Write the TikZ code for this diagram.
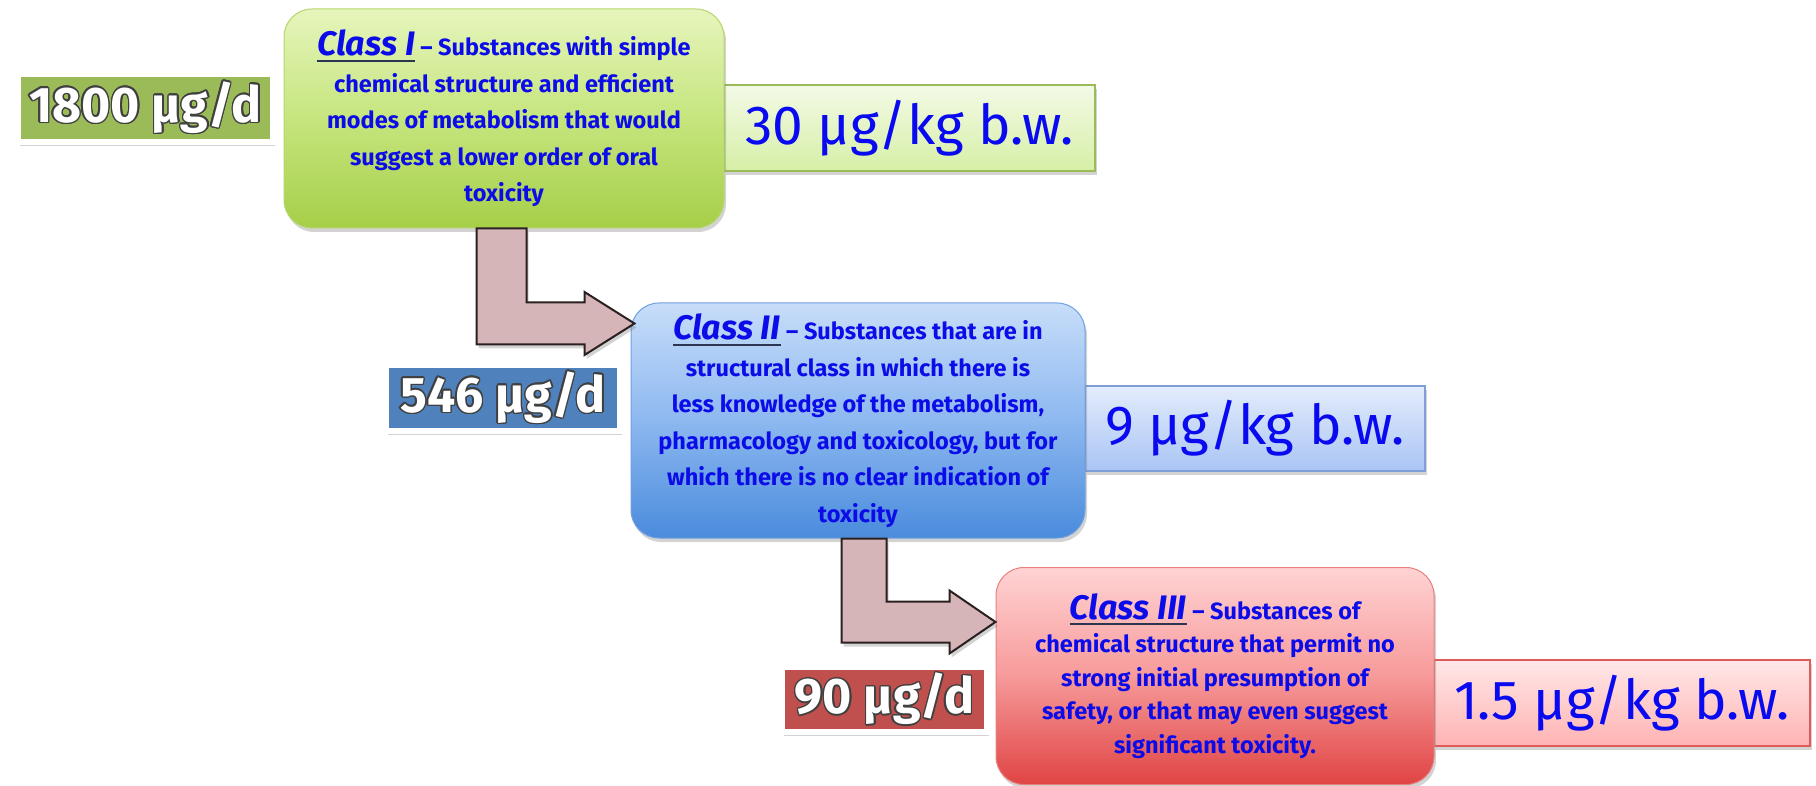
\documentclass[tikz,border=0pt]{standalone}
\usepackage{fontspec}
\setmainfont{Fira Sans}
\usepackage[copies]{contour}
\contourlength{1.5pt}
\usetikzlibrary{shadows,calc}
\definecolor{txtblue}{HTML}{0C0CE8}
\definecolor{valblue}{HTML}{0A0AF0}
\definecolor{ulgray}{HTML}{2E3550}
\definecolor{arrowfill}{HTML}{D6B5B9}
\definecolor{arrowdraw}{HTML}{2A2020}
% class I
\definecolor{gTop}{HTML}{E6F5BC}\definecolor{gMid}{HTML}{C6E57E}\definecolor{gBot}{HTML}{A6CF48}\definecolor{gBrd}{HTML}{B5D66C}
% class II
\definecolor{bTop}{HTML}{C7DDF9}\definecolor{bMid}{HTML}{8DB8F0}\definecolor{bBot}{HTML}{4A8BDC}\definecolor{bBrd}{HTML}{6FA0E0}
% class III
\definecolor{rTop}{HTML}{FFD3D3}\definecolor{rMid}{HTML}{F79A9A}\definecolor{rBot}{HTML}{E04444}\definecolor{rBrd}{HTML}{E88080}
% value boxes
\definecolor{v1Top}{HTML}{F3FAE6}\definecolor{v1Bot}{HTML}{D6EFA6}\definecolor{v1Brd}{HTML}{9BBB59}
\definecolor{v2Top}{HTML}{E3ECFB}\definecolor{v2Bot}{HTML}{A9C5F4}\definecolor{v2Brd}{HTML}{7E9FD6}
\definecolor{v3Top}{HTML}{FFE7E7}\definecolor{v3Bot}{HTML}{FFB3B3}\definecolor{v3Brd}{HTML}{E05A5A}
% dose boxes
\definecolor{d1c}{HTML}{9BBB59}\definecolor{d2c}{HTML}{4F81BD}\definecolor{d3c}{HTML}{C0504D}
\newsavebox\chbox
\newcommand\clshead[1]{\sbox\chbox{\fontsize{34}{36}\selectfont\bfseries\itshape #1}\rlap{\color{ulgray}\rule[-6pt]{\wd\chbox}{2pt}}\usebox\chbox}
\newcommand\dosetxt[1]{\contour{black!75}{#1}}
\tikzset{
  shad/.style={drop shadow={shadow xshift=2pt,shadow yshift=-4pt,opacity=0.35}},
  classbox/.style={rounded corners=28pt, line width=1pt, shad, align=center,
     text=txtblue, inner sep=0pt, font=\fontsize{23.5}{36.5}\selectfont\bfseries},
  valbox/.style={line width=1.2pt, shad, text=valblue, inner sep=0pt,
     font=\fontsize{55}{60}\selectfont},
  dosebox/.style={draw=white, line width=6pt, shad, text=white, inner sep=0pt,
     font=\fontsize{50}{56}\selectfont\bfseries},
  larrow/.style={fill=arrowfill, draw=arrowdraw, line width=2pt, line join=miter, shad},
}
\begin{document}
\begin{tikzpicture}[x=1pt,y=-1pt]
\useasboundingbox (0,0) rectangle (1816,786);
% value boxes (behind class boxes)
\node[valbox, draw=v1Brd, top color=v1Top, bottom color=v1Bot,
  minimum width=371pt, minimum height=86pt] (v1) at (909.5,128) {30 µg/kg b.w.};
\node[valbox, draw=v2Brd, top color=v2Top, bottom color=v2Bot,
  minimum width=340pt, minimum height=85pt] (v2) at (1255,428.5) {9 µg/kg b.w.};
\node[valbox, draw=v3Brd, top color=v3Top, bottom color=v3Bot,
  minimum width=376pt, minimum height=86pt] (v3) at (1622,703) {1.5 µg/kg b.w.};
% dose boxes
\node[dosebox, fill=d1c, minimum width=255pt, minimum height=68pt] (d1) at (145.5,108) {\dosetxt{1800 µg/d}};
\node[dosebox, fill=d2c, minimum width=234pt, minimum height=66pt] (d2) at (503,398) {\dosetxt{546 µg/d}};
\node[dosebox, fill=d3c, minimum width=205pt, minimum height=65pt] (d3) at (884.5,699.5) {\dosetxt{90 µg/d}};
% class boxes
\node[classbox, draw=gBrd, top color=gTop, bottom color=gBot, middle color=gMid,
  minimum width=440pt, minimum height=219pt] (c1) at (504,118.5)
  {\clshead{Class I} -- Substances with simple\\
   chemical structure and efficient\\
   modes of metabolism that would\\
   suggest a lower order of oral\\
   toxicity};
\node[classbox, draw=bBrd, top color=bTop, bottom color=bBot, middle color=bMid,
  minimum width=454pt, minimum height=235pt] (c2) at (858,420.5)
  {\clshead{Class II} -- Substances that are in\\
   structural class in which there is\\
   less knowledge of the metabolism,\\
   pharmacology and toxicology, but for\\
   which there is no clear indication of\\
   toxicity};
\node[classbox, draw=rBrd, top color=rTop, bottom color=rBot, middle color=rMid,
  minimum width=438pt, minimum height=217pt, font=\fontsize{23.5}{33.5}\selectfont\bfseries] (c3) at (1215,676)
  {\clshead{Class III} -- Substances of\\
   chemical structure that permit no\\
   strong initial presumption of\\
   safety, or that may even suggest\\
   significant toxicity.};
% L-shaped arrows
\coordinate (a1s) at ($(c1.south west)+(193,0)$);
\coordinate (a1t) at ($(c2.north west)+(4,21)$);
\coordinate (a2s) at ($(c2.south west)+(211,0)$);
\coordinate (a2t) at ($(c3.north west)+(0,55)$);
\path[larrow] let \p1=(a1s), \p2=(a1t) in
  (\x1,\y1) -- (\x1+50pt,\y1) -- (\x1+50pt,\y2+21pt) -- (\x2-50pt,\y2+21pt)
  -- (\x2-50pt,\y2+31.5pt) -- (\x2,\y2) -- (\x2-50pt,\y2-31.5pt)
  -- (\x2-50pt,\y2-21pt) -- (\x1,\y2-21pt) -- cycle;
\path[larrow] let \p1=(a2s), \p2=(a2t) in
  (\x1,\y1) -- (\x1+45pt,\y1) -- (\x1+45pt,\y2+20.5pt) -- (\x2-46pt,\y2+20.5pt)
  -- (\x2-46pt,\y2+31.5pt) -- (\x2,\y2) -- (\x2-46pt,\y2-31.5pt)
  -- (\x2-46pt,\y2-20.5pt) -- (\x1,\y2-20.5pt) -- cycle;
\end{tikzpicture}
\end{document}
